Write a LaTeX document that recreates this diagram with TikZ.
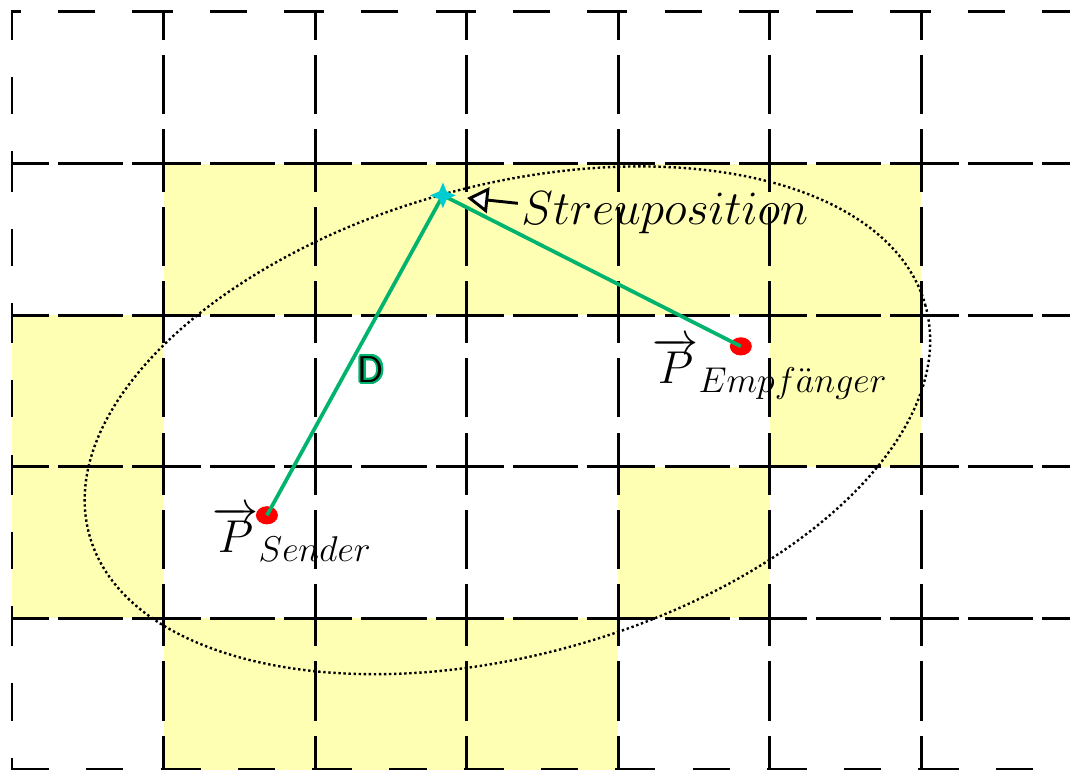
\documentclass[tikz,border=0pt]{standalone}
\usepackage{contour}
\usetikzlibrary{shapes.geometric,arrows.meta}
\definecolor{feldgelb}{RGB}{255,255,180}
\definecolor{pfadgruen}{RGB}{0,180,110}
\definecolor{sterncyan}{RGB}{0,205,210}
\contourlength{0.7pt}
\DeclareMathSizes{17.28}{17.28}{12}{10}
\newcommand{\indexgr}[1]{\scalebox{1.12}{$\scriptstyle #1$}}
\begin{document}
\begin{tikzpicture}[
  gitter/.style={draw=black, line width=1.1pt, dash pattern=on 0.49cm off 0.49cm},
  punkt/.style={ellipse, fill=red, minimum width=0.29cm, minimum height=0.24cm, inner sep=0pt},
  pfad/.style={draw=pfadgruen, line width=1.4pt},
  beschriftung/.style={font=\fontsize{17.28}{20}\selectfont, inner sep=0pt, anchor=base west},
  stern/.style={star, star points=4, star point ratio=2.4, minimum size=0.34cm, inner sep=0pt, fill=sterncyan},
]
\clip (-0.158,-2) rectangle (13.96,8.158);
\foreach \x/\y in {2/4,4/4,6/4,8/4,10/4,0/2,10/2,0/0,8/0,2/-2,4/-2,6/-2}
  \fill[feldgelb] (\x,\y) rectangle ++(2,2);
\foreach \x in {0,2,...,12}
  \foreach \y in {-2,0,...,6}
    \draw[gitter] (\x,\y) -- ++(2,0) -- ++(0,2) -- ++(-2,0) -- cycle;
\draw[densely dotted, line width=0.9pt, rotate around={15.3:(6.537,2.612)}] (6.537,2.612) ellipse (5.72 and 3.10);
\node[punkt] (sender) at (3.364,1.359) {};
\node[punkt] (empfaenger) at (9.617,3.588) {};
\coordinate (streu) at (5.686,5.580);
\draw[pfad] (sender.center) -- (streu) -- (empfaenger.center);
\node[stern] (streustern) at (streu) {};
\node[beschriftung] (senderlabel) at (2.640,0.871) {$\overrightarrow{P}_{\indexgr{Sender}}$};
\node[beschriftung] (empfaengerlabel) at (8.445,3.100) {$\overrightarrow{P}_{\indexgr{Empf\ddot{a}nger}}$};
\node[beschriftung] (streulabel) at (6.715,5.198) {\scalebox{1.04}{$Streuposition$}};
\coordinate (pfeilstart) at (6.675,5.475);
\draw[line width=1.1pt, -{Triangle[fill=white, length=0.28cm, width=0.34cm]}, shorten >=0.17cm] (pfeilstart) -- (streustern);
\node[font=\fontsize{14}{16}\selectfont\sffamily, inner sep=0pt] (distanz) at (4.736,3.272) {\contour{pfadgruen}{D}};
\end{tikzpicture}
\end{document}
